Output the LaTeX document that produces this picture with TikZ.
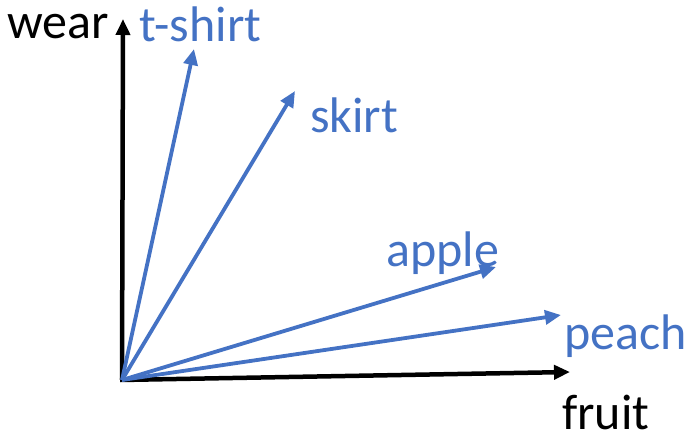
\documentclass[tikz,border=0pt]{standalone}
\usepackage{fontspec}
\setmainfont{Carlito}
\usetikzlibrary{arrows.meta}
\definecolor{vblue}{HTML}{4472C4}
\begin{document}
\begin{tikzpicture}[x=1pt,y=-1pt,
  axis/.style={line width=4.5pt,-{Triangle[length=16pt,width=14pt]}},
  vec/.style={line width=3.8pt,vblue,-{Triangle[length=16pt,width=14pt]}},
  lbl/.style={inner sep=0pt,anchor=base west,font=\fontsize{50}{58}\selectfont},
  blbl/.style={lbl,text=vblue}]
\useasboundingbox (0,0) rectangle (689,442);
\coordinate (o) at (122,380);
\coordinate (ytip) at (123,19);
\coordinate (xtip) at (570,372);
\coordinate (ts) at (194,49);
\coordinate (sk) at (295,91);
\coordinate (ap) at (496,267);
\coordinate (pe) at (561,315);
\draw[axis] (122,380) -- (ytip);
\draw[axis] (120,380) -- (xtip);
\draw[vec] (o) -- (ts);
\draw[vec] (o) -- (sk);
\draw[vec] (o) -- (ap);
\draw[vec] (o) -- (pe);
\node[lbl] (wear) at (7,38) {wear};
\node[lbl] (fruit) at (562,429) {fruit};
\node[blbl] (tshirt) at (139,41) {t-shirt};
\node[blbl] (skirt) at (310,132) {skirt};
\node[blbl] (apple) at (386,266) {apple};
\node[blbl] (peach) at (564,349) {peach};
\end{tikzpicture}
\end{document}
